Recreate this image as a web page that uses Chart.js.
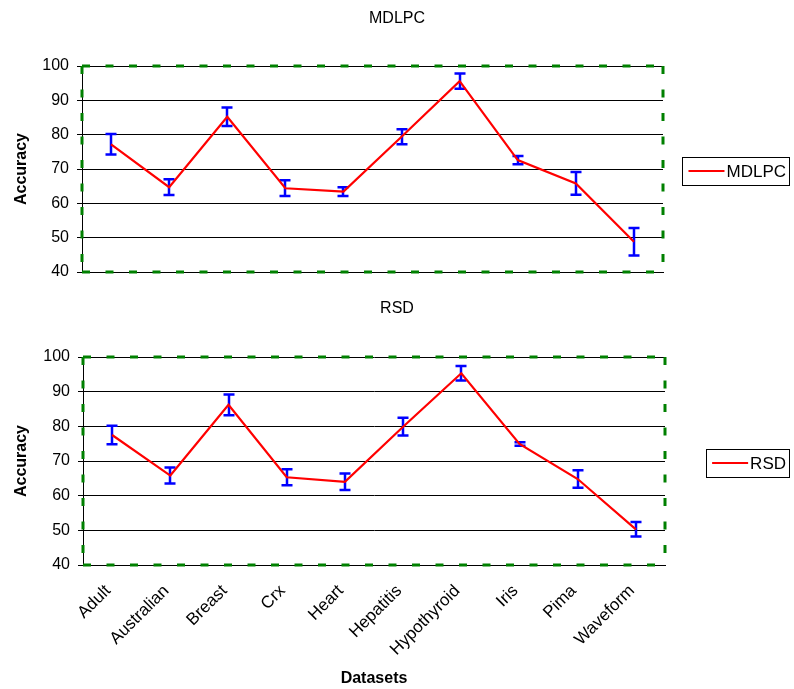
<!DOCTYPE html>
<html><head><meta charset="utf-8">
<script src="https://cdn.jsdelivr.net/npm/chart.js@4.4.1/dist/chart.umd.min.js"></script>
<style>
html,body{margin:0;padding:0;background:#fff;}
#wrap{position:relative;width:794px;height:689px;overflow:hidden;background:#fff;}
canvas{position:absolute;left:0;}
</style></head><body>
<div id="wrap">
<canvas id="c1" width="794" height="290" style="top:0;width:794px;height:290px"></canvas>
<canvas id="c2" width="794" height="399" style="top:290px;width:794px;height:399px"></canvas>
</div>
<script>
// ---- data ----
const categories = ["Adult","Australian","Breast","Crx","Heart","Hepatitis","Hypothyroid","Iris","Pima","Waveform"];
const mdlpcValues = [77.2, 64.7, 85.2, 64.4, 63.4, 79.4, 95.6, 72.6, 65.8, 48.8];
const mdlpcErrors = [3.0, 2.3, 2.7, 2.3, 1.3, 2.2, 2.2, 1.2, 3.3, 4.0];
const rsdValues   = [77.5, 65.8, 86.2, 65.3, 64.0, 79.9, 95.3, 74.9, 64.8, 50.3];
const rsdErrors   = [2.7, 2.3, 3.0, 2.3, 2.4, 2.55, 2.1, 0.5, 2.5, 2.1];
const yMin = 40, yMax = 100, yStep = 10;
const yTitle = "Accuracy";
const xTitle = "Datasets";

const FONT = "'Liberation Sans', Arial, sans-serif";

const errorBarPlugin = {
  id: 'errorBars',
  beforeDatasetsDraw(chart) {
    const ctx = chart.ctx, xs = chart.scales.x, ys = chart.scales.y;
    ctx.save();
    ctx.strokeStyle = '#0000ff';
    ctx.lineWidth = 2.5;
    chart.data.datasets.forEach(ds => {
      ds.data.forEach((v, i) => {
        const e = ds.errors[i];
        const x = Math.round(xs.getPixelForValue(i));
        const y1 = ys.getPixelForValue(v + e), y2 = ys.getPixelForValue(v - e);
        ctx.beginPath();
        ctx.moveTo(x, y1); ctx.lineTo(x, y2);
        ctx.moveTo(x - 5.5, y1); ctx.lineTo(x + 5.5, y1);
        ctx.moveTo(x - 5.5, y2); ctx.lineTo(x + 5.5, y2);
        ctx.stroke();
      });
    });
    ctx.restore();
  }
};

const borderPlugin = {
  id: 'dashBorder',
  beforeDatasetsDraw(chart) {
    const {ctx, chartArea: a} = chart;
    ctx.save();
    ctx.strokeStyle = '#008000';
    ctx.lineWidth = 3;
    ctx.setLineDash([8, 15.5]);
    ctx.beginPath();
    ctx.moveTo(a.left, a.top); ctx.lineTo(a.right, a.top);
    ctx.moveTo(a.left, a.bottom); ctx.lineTo(a.right, a.bottom);
    ctx.moveTo(a.left, a.top); ctx.lineTo(a.left, a.bottom);
    ctx.moveTo(a.right, a.top); ctx.lineTo(a.right, a.bottom);
    ctx.stroke();
    ctx.restore();
  }
};

const legendPlugin = {
  id: 'boxLegend',
  afterDraw(chart) {
    const {ctx, chartArea: a} = chart;
    const ds = chart.data.datasets[0];
    ctx.save();
    ctx.font = "17px " + FONT;
    const tw = ctx.measureText(ds.label).width;
    const right = chart.width - 5;
    const w = tw + 47, h = 28;
    const left = right - w;
    const cy = (a.top + a.bottom) / 2 + 2;
    const top = Math.round(cy - h / 2);
    ctx.strokeStyle = '#000'; ctx.lineWidth = 1;
    ctx.strokeRect(Math.round(left) + 0.5, top + 0.5, Math.round(w), h);
    ctx.strokeStyle = ds.borderColor; ctx.lineWidth = 2;
    ctx.beginPath(); ctx.moveTo(left + 6, cy); ctx.lineTo(left + 42, cy); ctx.stroke();
    ctx.fillStyle = '#000'; ctx.textBaseline = 'middle'; ctx.textAlign = 'left';
    ctx.fillText(ds.label, left + 44, cy + 1);
    ctx.restore();
  }
};

function makeChart(canvasId, title, values, errors, L) {
  const showX = L.showX;
  return new Chart(document.getElementById(canvasId), {
    type: 'line',
    data: {
      labels: categories,
      datasets: [{
        label: title,
        data: values,
        errors: errors,
        borderColor: '#ff0000',
        backgroundColor: '#ff0000',
        borderWidth: 2.2,
        pointRadius: 0,
        tension: 0,
        fill: false
      }]
    },
    options: {
      responsive: false,
      animation: false,
      devicePixelRatio: 1,
      layout: {padding: 0},
      plugins: {
        legend: {display: false},
        tooltip: {enabled: false},
        title: {
          display: true, text: title, color: '#000',
          font: {family: FONT, size: 16, weight: 'normal'},
          padding: {top: 9, bottom: L.top - 9 - 19.2}
        }
      },
      scales: {
        x: {
          type: 'category', offset: true,
          grid: {display: false, drawTicks: false},
          border: {display: true, color: '#000', width: 1},
          ticks: {display: showX, color: '#000', autoSkip: false, minRotation: 45, maxRotation: 45,
                  padding: 16, labelOffset: -4, font: {family: FONT, size: 17}},
          title: {display: showX, text: xTitle, color: '#000',
                  font: {family: FONT, size: 16, weight: 'bold'}, padding: {top: 0, bottom: 0.5}},
          afterFit(s) { s.height = L.h - L.bottom; }
        },
        y: {
          min: yMin, max: yMax,
          grid: {color: '#000', lineWidth: 1, drawTicks: true, tickLength: 5, tickColor: '#000'},
          border: {display: true, color: '#000', width: 1},
          ticks: {stepSize: yStep, color: '#000', padding: 8, font: {family: FONT, size: 16}},
          title: {display: true, text: yTitle, color: '#000',
                  font: {family: FONT, size: 16, weight: 'bold'}, padding: {top: 12, bottom: 0}},
          afterFit(s) { s.width = L.left; }
        },
        pad: {
          type: 'linear', position: 'right', display: true,
          grid: {display: false, drawTicks: false}, border: {display: false},
          ticks: {display: false},
          afterFit(s) { s.width = 794 - L.right; }
        }
      }
    },
    plugins: [borderPlugin, errorBarPlugin, legendPlugin]
  });
}

makeChart('c1', 'MDLPC', mdlpcValues, mdlpcErrors, {showX: false, left: 82, right: 663, top: 66, bottom: 272, h: 290});
makeChart('c2', 'RSD', rsdValues, rsdErrors, {showX: true, left: 83, right: 665, top: 67, bottom: 275, h: 399});
</script>
</body></html>
